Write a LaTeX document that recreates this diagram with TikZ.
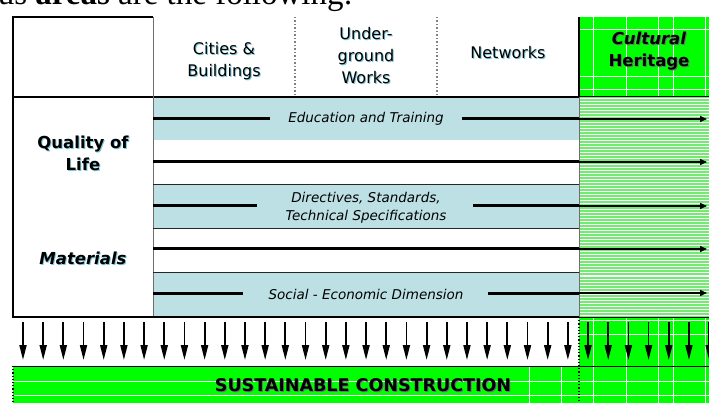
\documentclass[tikz,border=0pt]{standalone}
\usepackage{fontspec}
\setmainfont{DejaVu Sans}
\newfontfamily\tnr{Liberation Serif}
\usetikzlibrary{arrows.meta}
\definecolor{bandblue}{RGB}{188,224,228}
\definecolor{hgreen}{RGB}{0,255,0}
\definecolor{lgreen}{RGB}{115,235,115}
\definecolor{shadowc}{RGB}{125,200,218}
\definecolor{shadowg}{RGB}{110,110,120}
\definecolor{divgray}{RGB}{110,110,110}
\tikzset{
  hdr/.style={font={\fontsize{16}{22}\selectfont}, align=center, inner sep=0pt},
  boldlab/.style={font={\bfseries\fontsize{16.5}{22}\selectfont}, align=center, inner sep=0pt},
  rowlab/.style={font={\itshape\fontsize{13.5}{18}\selectfont}, align=center, inner sep=0pt},
  barlab/.style={font={\bfseries\fontsize{17.5}{20}\selectfont}, inner sep=0pt},
  thickrow/.style={line width=3pt},
  greenrow/.style={line width=1.5pt, -{Triangle[length=7pt,width=6pt]}},
  downarrow/.style={line width=1.8pt, -{Triangle[length=15pt,width=7pt]}},
  whitegrid/.style={white, line width=1pt},
  thinrule/.style={line width=0.8pt, black!85},
}
\newcommand\shnode[5][shadowc]{%
  \node[#4,text=#1,xshift=1pt,yshift=-1pt] at (#3) {#5};
  \node[#4] (#2) at (#3) {#5};}
\begin{document}
\begin{tikzpicture}[x=1pt,y=-1pt]
\useasboundingbox (0,0) rectangle (709,403);
\clip (0,0) rectangle (709,403);
\fill[white] (0,0) rectangle (709,403);

% top running text (cut off at the top edge, as in the reference)
\node[anchor=base east, inner sep=0pt, font={\tnr\fontsize{33}{33}\selectfont}] (toptext) at (353,5) {us \textbf{areas} are the following:};

% blue bands
\fill[bandblue] (153,97) rectangle (579,140);
\fill[bandblue] (153,184) rectangle (579,228);
\fill[bandblue] (153,272) rectangle (579,317);

% green header cell with grid
\fill[hgreen] (579,17) rectangle (709,97);
\foreach \gx in {593,626,658,673,705} \draw[whitegrid] (\gx,17) -- (\gx,97);
\foreach \gy in {30,77,90} \draw[whitegrid] (579,\gy) -- (709,\gy);

% light green striped body region
\fill[lgreen] (579,97) rectangle (709,317);
\foreach \yy in {99,102,...,316} \draw[white, line width=1pt] (579,\yy) -- (709,\yy);

% green arrow row region
\fill[hgreen] (579,317) rectangle (709,366);
\foreach \gx in {593,626,658,673,705} \draw[whitegrid] (\gx,317) -- (\gx,366);
\foreach \gy in {320,334} \draw[whitegrid] (579,\gy) -- (709,\gy);

% bottom bar
\fill[hgreen] (13,366) rectangle (709,403);
\foreach \gy in {381,395} \draw[whitegrid] (13,\gy) -- (709,\gy);
\foreach \gx in {529,561,593,626,658,673,705} \draw[whitegrid] (\gx,366) -- (\gx,403);

% table rules
\draw[line width=1.5pt] (13,17) -- (153,17);
\draw[line width=2pt] (13,16.5) -- (13,318);
\draw[line width=1.5pt] (13,97) -- (579,97);
\draw[line width=1pt] (579,97) -- (709,97);
\draw[line width=1pt, divgray] (153,17) -- (153,317);
\draw[line width=1.5pt, gray, dotted] (295,17) -- (295,97);
\draw[line width=1.5pt, gray, dotted] (437,17) -- (437,97);
\draw[line width=2pt] (579,17) -- (579,97);
\draw[line width=1pt, divgray] (579,97) -- (579,317);
\draw[line width=1.2pt, dotted] (579,317) -- (579,403);
\foreach \ry in {184,228,272} \draw[thinrule] (153,\ry) -- (579,\ry);
\draw[line width=2.8pt] (12,317) -- (579,317);
\draw[line width=1pt] (579,317) -- (709,317);
\draw[line width=1pt] (13,366) -- (709,366);
\draw[line width=1.2pt, dotted] (13,366) -- (13,403);

% row lines with arrows
\coordinate (r1a) at (153,119); \coordinate (r1b) at (270,119); \coordinate (r1c) at (462,119); \coordinate (r1d) at (579,119); \coordinate (r1e) at (707,119);
\coordinate (r2a) at (153,162); \coordinate (r2d) at (579,162); \coordinate (r2e) at (707,162);
\coordinate (r3a) at (153,206); \coordinate (r3b) at (257,206); \coordinate (r3c) at (473,206); \coordinate (r3d) at (579,206); \coordinate (r3e) at (707,206);
\coordinate (r4a) at (153,249); \coordinate (r4d) at (579,249); \coordinate (r4e) at (707,249);
\coordinate (r5a) at (153,293); \coordinate (r5b) at (243,293); \coordinate (r5c) at (488,293); \coordinate (r5d) at (579,293); \coordinate (r5e) at (707,293);
\draw[thickrow] (r1a) -- (r1b);
\draw[thickrow] (r1c) -- (r1d);
\draw[greenrow] (r1d) -- (r1e);
\draw[thickrow] (r2a) -- (r2d);
\draw[greenrow] (r2d) -- (r2e);
\draw[thickrow] (r3a) -- (r3b);
\draw[thickrow] (r3c) -- (r3d);
\draw[greenrow] (r3d) -- (r3e);
\draw[thickrow] (r4a) -- (r4d);
\draw[greenrow] (r4d) -- (r4e);
\draw[thickrow] (r5a) -- (r5b);
\draw[thickrow] (r5c) -- (r5d);
\draw[greenrow] (r5d) -- (r5e);

% downward arrows
\foreach \k in {0,...,34} {
  \coordinate (da\k) at ({23+20.18*\k},322);
  \coordinate (db\k) at ({23+20.18*\k},360);
  \draw[downarrow] (da\k) -- (db\k);
}

% texts
\shnode{cities}{224,61}{hdr}{Cities \&\\Buildings}
\shnode{under}{366,56}{hdr}{Under-\\ground\\Works}
\shnode{networks}{508,53}{hdr}{Networks}
\shnode[shadowg]{heritage}{649,51}{boldlab}{\textit{Cultural}\\Heritage}
\shnode{quality}{83,153}{boldlab}{Quality of\\Life}
\shnode{materials}{83,258}{boldlab}{\textit{Materials}}
\node[rowlab] (edu) at (366,119) {Education and Training};
\node[rowlab] (dir) at (366,208) {Directives, Standards,\\Technical Specifications};
\node[rowlab] (soc) at (366,294) {Social - Economic Dimension};
\shnode[shadowg]{sust}{363,385}{barlab}{SUSTAINABLE CONSTRUCTION}
\end{tikzpicture}
\end{document}
